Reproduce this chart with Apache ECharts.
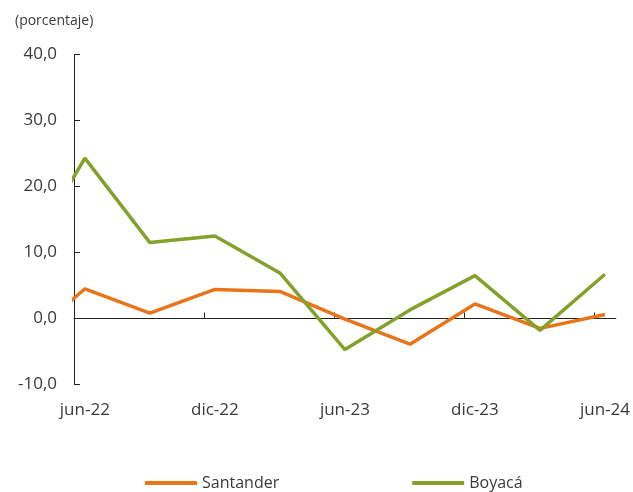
<!DOCTYPE html>
<html>
<head>
<meta charset="utf-8">
<script src="https://cdn.jsdelivr.net/npm/echarts@6/dist/echarts.min.js"></script>
<style>
html,body{margin:0;padding:0;background:#fff;}
#chart{width:633px;height:492px;}
</style>
</head>
<body>
<div id="chart"></div>
<script>
// Quarterly observations (first one lies before the visible axis start and is clipped)
const quarters = ['mar-22','jun-22','sep-22','dic-22','mar-23','jun-23','sep-23','dic-23','mar-24','jun-24'];
const santander = [-4.1, 4.5, 0.8, 4.4, 4.1, -0.1, -3.9, 2.2, -1.5, 0.6];
const boyaca    = [7.5, 24.3, 11.5, 12.5, 6.9, -4.7, 1.3, 6.5, -1.8, 6.7];
// Monthly axis positions (jun-22 = 0)
const months = ['jun-22','jul-22','ago-22','sep-22','oct-22','nov-22','dic-22','ene-23','feb-23','mar-23','abr-23','may-23','jun-23','jul-23','ago-23','sep-23','oct-23','nov-23','dic-23','ene-24','feb-24','mar-24','abr-24','may-24','jun-24'];
const tickLabels = ['jun-22','dic-22','jun-23','dic-23','jun-24'];
const yTicks = [-10, 0, 10, 20, 30, 40];

function monthIndex(q) {
  const names = {mar:3, jun:6, sep:9, dic:12};
  const [m, y] = q.split('-');
  return (parseInt(y, 10) - 22) * 12 + names[m] - 6;
}
const pts = (vals) => quarters.map((q, i) => [monthIndex(q), vals[i]]);

const labelIdx = tickLabels.map(l => months.indexOf(l));
const tickPos = labelIdx.slice(1).map(i => i - 0.5);

const txt = '#3a3a3a';
const font = 'Open Sans';

const chart = echarts.init(document.getElementById('chart'), null, {renderer: 'canvas'});
chart.setOption({
  animation: false,
  backgroundColor: '#fff',
  textStyle: {fontFamily: font},
  title: {
    text: '(porcentaje)',
    left: 10, top: 9,
    textStyle: {fontFamily: font, fontSize: 14, fontWeight: 'normal', color: txt}
  },
  grid: {left: 74, right: 15, top: 54.5, bottom: 107.5, containLabel: false},
  legend: {
    top: 469, left: 140,
    itemGap: 133, itemWidth: 52, itemHeight: 4,
    icon: 'rect',
    textStyle: {fontFamily: font, fontSize: 16, color: txt, lineHeight: 18},
    data: ['Santander', 'Boyacá']
  },
  xAxis: [
    {
      type: 'value', min: -0.5, max: months.length - 0.5,
      axisLine: {onZero: true, lineStyle: {color: '#222', width: 1}},
      axisTick: {show: true, inside: true, length: 6, customValues: tickPos, lineStyle: {color: '#222'}},
      axisLabel: {show: false},
      splitLine: {show: false}
    },
    {
      type: 'value', min: -0.5, max: months.length - 0.5, position: 'bottom',
      axisLine: {show: false, onZero: false},
      axisTick: {show: false},
      axisLabel: {
        show: true, customValues: labelIdx, margin: 17,
        fontFamily: font, fontSize: 17, color: txt,
        formatter: (v) => months[Math.round(v)]
      },
      splitLine: {show: false}
    }
  ],
  yAxis: {
    type: 'value', min: yTicks[0], max: yTicks[yTicks.length - 1], interval: 10,
    axisLine: {show: true, onZero: false, lineStyle: {color: '#222', width: 1}},
    axisTick: {show: true, inside: true, length: 6, lineStyle: {color: '#222'}},
    axisLabel: {
      margin: 17, fontFamily: font, fontSize: 17, color: txt,
      formatter: (v) => v.toFixed(1).replace('.', ',')
    },
    splitLine: {show: false}
  },
  series: [
    {
      name: 'Santander', type: 'line', xAxisIndex: 0, data: pts(santander),
      showSymbol: false, symbol: 'none', clip: true,
      lineStyle: {color: '#E8751A', width: 3.5}, itemStyle: {color: '#E8751A'}
    },
    {
      name: 'Boyacá', type: 'line', xAxisIndex: 0, data: pts(boyaca),
      showSymbol: false, symbol: 'none', clip: true,
      lineStyle: {color: '#86A12B', width: 3.5}, itemStyle: {color: '#86A12B'}
    }
  ]
});
</script>
</body>
</html>
